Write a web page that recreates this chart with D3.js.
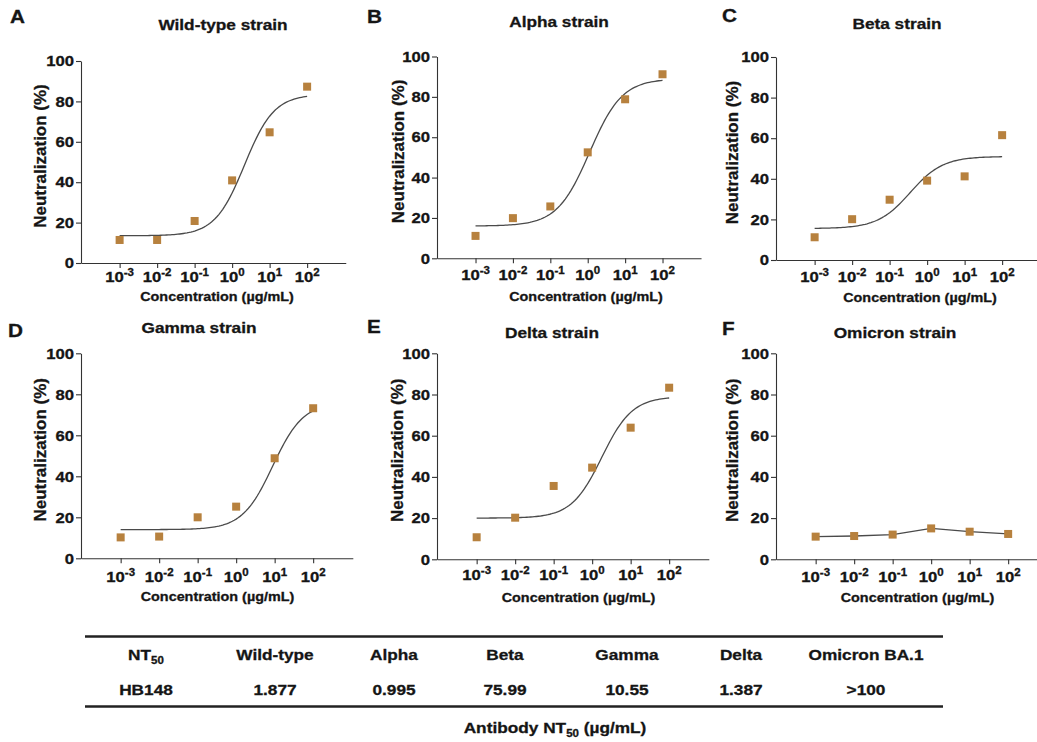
<!DOCTYPE html>
<html>
<head>
<meta charset="utf-8">
<script src="https://cdn.jsdelivr.net/npm/d3@7"></script>
<style>
  body { margin: 0; background: #fff; }
  svg { display: block; font-family: "Liberation Sans", Arial, sans-serif; font-weight: bold; }
  svg text { fill: #151515; stroke: #151515; stroke-width: 0.3px; }
</style>
</head>
<body>
<svg id="chart" width="1037" height="742"></svg>
<script>
// concentrations, as log10(ug/mL)
const logConc = [-3, -2, -1, 0, 1, 2]
const yTicks = [0, 20, 40, 60, 80, 100]
const letters = ["A", "B", "C", "D", "E", "F"]
const strains = ["Wild-type strain", "Alpha strain", "Beta strain", "Gamma strain", "Delta strain", "Omicron strain"]

// neutralization (%)
const wildType = [11.4, 11.4, 20.8, 40.9, 64.7, 87.3]
const alpha = [11.1, 19.9, 25.7, 52.5, 78.8, 91.2]
const beta = [11.2, 20.1, 29.7, 39.1, 41.2, 61.5]
const gamma = [10.2, 10.6, 20.0, 25.2, 48.8, 73.2]
const delta = [10.7, 20.2, 35.6, 44.5, 63.9, 83.3]
const omicron = [11.0, 11.3, 12.0, 15.0, 13.4, 12.3]
const series = [wildType, alpha, beta, gamma, delta, omicron]

// fitted 4PL curve: [bottom, top, logEC50, hill]; omicron is just joined
const fits = [
	[13.5, 83.5, 0.33, 1.1],
	[16, 89, 0.05, 1.0],
	[15.5, 51, -0.45, 1.0],
	[14, 76, 0.95, 1.1],
	[20, 79, 0.25, 1.1],
	null
]

// NT50 table
const antibody = "HB148"
const tableHeads = ["Wild-type", "Alpha", "Beta", "Gamma", "Delta", "Omicron BA.1"]
const nt50Values = ["1.877", "0.995", "75.99", "10.55", "1.387", ">100"]

// layout of each panel (pixels)
const frames = [
	{ ax: 81, y0: 263, y100: 61, dec: 37.5, tx: 223, ty: 30, lx: 10, ly: 23, xl: 277, xt: 217, xty: 301, yt: 40 },
	{ ax: 437, y0: 258.3, y100: 56.5, dec: 37.4, tx: 559, ty: 27, lx: 367, ly: 23, xl: 275, xt: 586, xty: 301, yt: 398 },
	{ ax: 776, y0: 260, y100: 57, dec: 37.5, tx: 897, ty: 29, lx: 722, ly: 22, xl: 277, xt: 920, xty: 302, yt: 732 },
	{ ax: 81, y0: 558.3, y100: 353.3, dec: 38.5, tx: 199, ty: 333, lx: 8, ly: 337, xl: 577, xt: 217.5, xty: 601, yt: 40 },
	{ ax: 437, y0: 559.3, y100: 353.3, dec: 38.5, tx: 552, ty: 338, lx: 367, ly: 333, xl: 575, xt: 578.5, xty: 602, yt: 397 },
	{ ax: 776, y0: 559.3, y100: 353.3, dec: 38.5, tx: 895, ty: 338, lx: 722, ly: 335, xl: 577, xt: 917.5, xty: 602, yt: 732 }
]
const colX = [146, 275, 394, 505, 627, 741, 866]

const SX = 1.15 // the source type is set wide
const markerColour = "#b7813e"
const axisColour = "#333"

const svg = d3.select("#chart")

function label(parent, x, y, str, size, anchor = "middle") {
	return parent.append("text")
		.attr("transform", `translate(${x},${y}) scale(${SX},1)`)
		.attr("text-anchor", anchor)
		.style("font-size", `${size}px`)
		.text(str)
}

function fourPL(p, lx) {
	let [bottom, top, ec, hill] = p
	return bottom + (top - bottom) / (1 + Math.pow(10, hill * (ec - lx)))
}

frames.forEach((f, i) => {
	let g = svg.append("g")
	let x = d3.scaleLinear().domain([-4.03, 3.03]).range([f.ax, f.ax + 7.06 * f.dec])
	let y = d3.scaleLinear().domain([0, 100]).range([f.y0, f.y100])

	// axes
	g.append("g")
		.attr("transform", `translate(${f.ax},0)`)
		.call(d3.axisLeft(y).tickValues(yTicks).tickSize(5).tickSizeOuter(0).tickFormat(""))
	g.append("g")
		.attr("transform", `translate(0,${f.y0})`)
		.call(d3.axisBottom(x).tickValues(logConc).tickSize(5).tickSizeOuter(0).tickFormat(""))
	g.selectAll(".domain, .tick line").attr("stroke", axisColour).attr("stroke-width", 1.1)

	yTicks.forEach(t => label(g, f.ax - 7, y(t) + 5.2, t, 14.5, "end"))

	logConc.forEach(c => {
		let t = label(g, x(c), f.xl + 5, "10", 14.5)
		t.append("tspan").attr("dy", -6).style("font-size", "10px").text(c)
	})

	label(g, f.xt, f.xty, "Concentration (\u00b5g/mL)", 12.5)
	g.append("text")
		.attr("transform", `translate(${f.yt},${(f.y0 + f.y100) / 2 - 6}) rotate(-90)`)
		.attr("text-anchor", "middle")
		.attr("dy", "0.36em")
		.style("font-size", "17px")
		.text("Neutralization (%)")

	label(g, f.tx, f.ty, strains[i], 15)
	label(g, f.lx, f.ly, letters[i], 18, "start")

	// curve
	let pts = fits[i]
		? d3.range(-3, 2.001, 0.05).map(lx => [lx, fourPL(fits[i], lx)])
		: logConc.map((c, j) => [c, series[i][j]])
	g.append("path")
		.datum(pts)
		.attr("fill", "none")
		.attr("stroke", "#4a4a4a")
		.attr("stroke-width", 1.3)
		.attr("d", d3.line().x(d => x(d[0])).y(d => y(d[1])))

	// points
	let s = 8
	g.selectAll("rect.pt")
		.data(series[i])
		.join("rect")
		.attr("class", "pt")
		.attr("x", (d, j) => x(logConc[j]) - s / 2)
		.attr("y", d => y(d) - s / 2)
		.attr("width", s)
		.attr("height", s)
		.attr("fill", markerColour)
})

// NT50 table
let tb = svg.append("g")
tb.append("line").attr("x1", 85).attr("x2", 943).attr("y1", 636.5).attr("y2", 636.5)
	.attr("stroke", "#222").attr("stroke-width", 2.4)
tb.append("line").attr("x1", 85).attr("x2", 943).attr("y1", 706.5).attr("y2", 706.5)
	.attr("stroke", "#222").attr("stroke-width", 2.4)

let nt = label(tb, colX[0], 660, "NT", 15)
nt.append("tspan").attr("dy", 4).style("font-size", "10px").text("50")
tableHeads.forEach((h, j) => label(tb, colX[j + 1], 660, h, 15))
label(tb, colX[0], 695, antibody, 15)
nt50Values.forEach((v, j) => label(tb, colX[j + 1], 695, v, 15))

let foot = label(tb, 555, 733, "Antibody NT", 15)
foot.append("tspan").attr("dy", 4).style("font-size", "10px").text("50")
foot.append("tspan").attr("dy", -4).text(" (\u00b5g/mL)")
</script>
</body>
</html>
